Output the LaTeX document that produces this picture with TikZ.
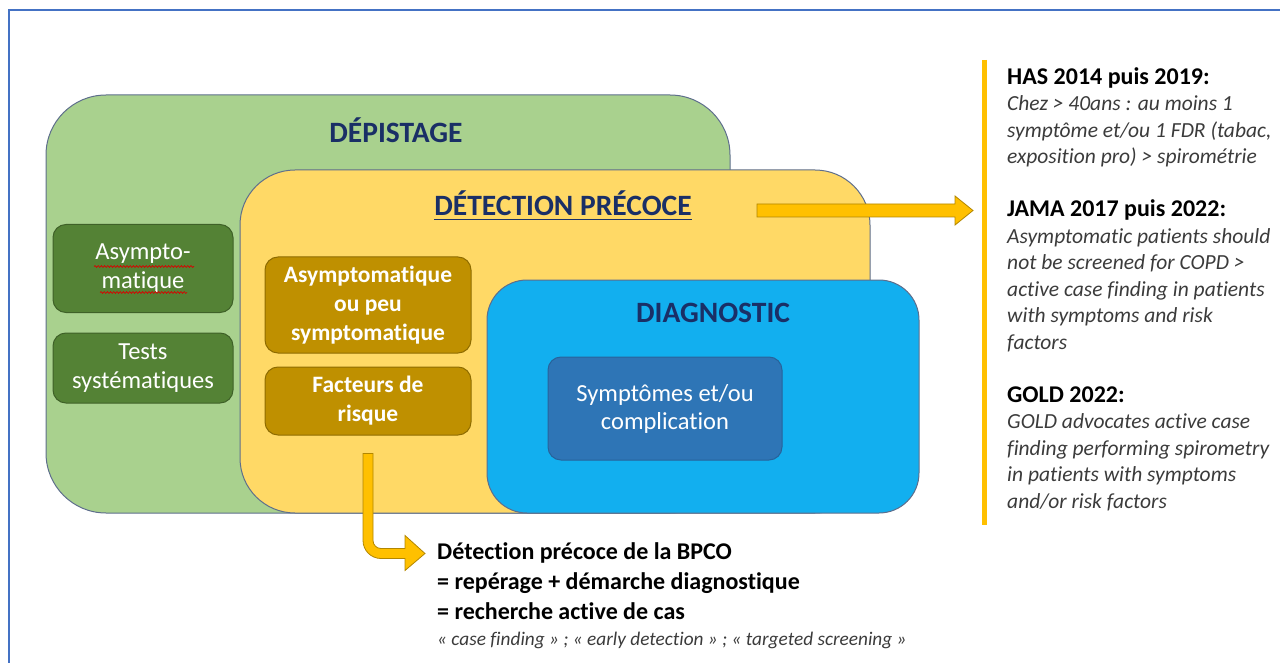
\documentclass[tikz,border=0pt]{standalone}
\usepackage{fontspec}
\setmainfont{Carlito}[Ligatures=NoCommon]
\usetikzlibrary{decorations.pathmorphing}

\definecolor{frameblue}{HTML}{4472C4}
\definecolor{zonegreen}{HTML}{A9D18E}
\definecolor{zoneyellow}{HTML}{FFD966}
\definecolor{zoneblue}{HTML}{12AFEF}
\definecolor{boxgreen}{HTML}{548235}
\definecolor{boxbrown}{HTML}{BF9000}
\definecolor{boxblue}{HTML}{2E75B6}
\definecolor{navy}{HTML}{1A2F66}
\definecolor{arrowgold}{HTML}{FFC000}
\definecolor{edgegrey}{HTML}{5E6E8C}
\definecolor{notegrey}{HTML}{3B3B3B}

\newcommand\refhead[1]{{\fontsize{24}{26.5}\selectfont\bfseries #1}}
\newcommand\refline[1]{{\itshape\color{notegrey}#1}}

\tikzset{
  frame/.style={draw=frameblue, line width=2.5pt},
  zone/.style={draw=edgegrey, line width=1pt, inner sep=0pt},
  zonetitle/.style={text=navy, inner sep=0pt, font=\fontsize{29.5}{34}\selectfont\bfseries},
  tag/.style={rounded corners=13pt, line width=1pt, text=white, align=center, inner sep=0pt, font=\fontsize{24.5}{29}\selectfont},
  blockarrow/.style={fill=arrowgold, draw=arrowgold!70!black, line width=0.8pt},
  refbar/.style={draw=arrowgold, line width=5pt},
  spellmark/.style={draw=red!85!black, line width=0.7pt, decorate, decoration={snake, amplitude=0.9pt, segment length=3.2pt}},
}

\begin{document}
\begin{tikzpicture}[x=1pt,y=-1pt]
        \useasboundingbox (0,0) rectangle (1280,663);
        \draw[frame] (9,663) -- (9,10) -- (1280,10);

        % nested zones
        \node[zone,fill=zonegreen,rounded corners=60pt,minimum width=684pt,minimum height=418pt] (depist) at (388,304) {};
        \node[zone,fill=zoneyellow,rounded corners=55pt,minimum width=630pt,minimum height=343pt] (early)  at (555,341.5) {};
        \node[zone,fill=zoneblue,rounded corners=40pt,minimum width=432pt,minimum height=233pt]   (diag)   at (703,396.5) {};

        \node[zonetitle] (depisttitle) at (396,130) {DÉPISTAGE};
        \node[zonetitle] (earlytitle)  at (563,203) {DÉTECTION PRÉCOCE};
        \node[zonetitle] (diagtitle)   at (713,313) {DIAGNOSTIC};
        \draw[navy,line width=1.6pt] ([yshift=-4pt]earlytitle.south west) -- ([yshift=-4pt]earlytitle.south east);

        % boxes
        \node[tag,fill=boxgreen,draw=boxgreen!75!black,minimum width=180pt,minimum height=88pt] (asym)  at (143,268.5) {Asympto-\\matique};
        \node[tag,fill=boxgreen,draw=boxgreen!75!black,minimum width=180pt,minimum height=70pt] (tests) at (143,368)   {Tests\\systématiques};
        \node[tag,fill=boxbrown,draw=boxbrown!75!black,minimum width=206pt,minimum height=96pt,font=\fontsize{23.5}{29}\selectfont\bfseries] (few)  at (368,305) {Asymptomatique\\ou peu\\symptomatique};
        \node[tag,fill=boxbrown,draw=boxbrown!75!black,minimum width=206pt,minimum height=68pt,font=\fontsize{23.5}{29}\selectfont\bfseries] (risk) at (368,401) {Facteurs de\\risque};
        \node[tag,fill=boxblue,draw=boxblue!85!black,minimum width=234pt,minimum height=103pt,font=\fontsize{24.5}{28}\selectfont] (sympt) at (665,408.5) {Symptômes et/ou\\complication};

        \draw[spellmark] (asym.center) ++(-49,-2) -- ++(100,0);
        \draw[spellmark] (asym.center) ++(-43,24) -- ++(87,0);

        % arrows
        \coordinate (hstart) at (757,210.5);
        \draw[blockarrow] (hstart) ++(0,-6.5) -- ++(198,0) -- ++(0,-8) -- ++(18,14.5) -- ++(-18,14.5) -- ++(0,-8) -- ++(-198,0) -- cycle;
        \draw[blockarrow] (risk.south) ++(-5,18) -- ++(0,87) arc[start angle=180,end angle=90,radius=18]
              -- ++(24,0) -- ++(0,12) -- ++(20,-17) -- ++(-20,-18) -- ++(0,13) -- ++(-24,0)
              arc[start angle=90,end angle=180,radius=8] -- ++(0,-87) -- cycle;

        % texts
        \node[anchor=north west,inner sep=0pt,align=left,font=\fontsize{24}{30}\selectfont\bfseries] (bpco) at (437,542)
              {Détection précoce de la BPCO\\= repérage + démarche diagnostique\\= recherche active de cas};
        \node[anchor=base west,inner sep=0pt,text=notegrey,font=\fontsize{19.3}{22}\selectfont\itshape] (aliases) at (437,645)
              {« case finding » ; « early detection » ; « targeted screening »};

        \coordinate (bartop) at (984,60);
        \coordinate (barbot) at (984,525);
        \draw[refbar] (bartop) -- (barbot);
        \node[anchor=north west,inner sep=0pt,align=left,font=\fontsize{21.5}{26.5}\selectfont] (refs) at (1007,67)
              {\refhead{HAS 2014 puis 2019:}\\
               \refline{Chez > 40ans : au moins 1}\\
               \refline{symptôme et/ou 1 FDR (tabac,}\\
               \refline{exposition pro) > spirométrie}\\[26.5pt]
               \refhead{JAMA 2017 puis 2022:}\\
               \refline{Asymptomatic patients should}\\
               \refline{not be screened for COPD >}\\
               \refline{active case finding in patients}\\
               \refline{with symptoms and risk}\\
               \refline{factors}\\[26.5pt]
               \refhead{GOLD 2022:}\\
               \refline{GOLD advocates active case}\\
               \refline{finding performing spirometry}\\
               \refline{in patients with symptoms}\\
               \refline{and/or risk factors}};
\end{tikzpicture}
\end{document}
